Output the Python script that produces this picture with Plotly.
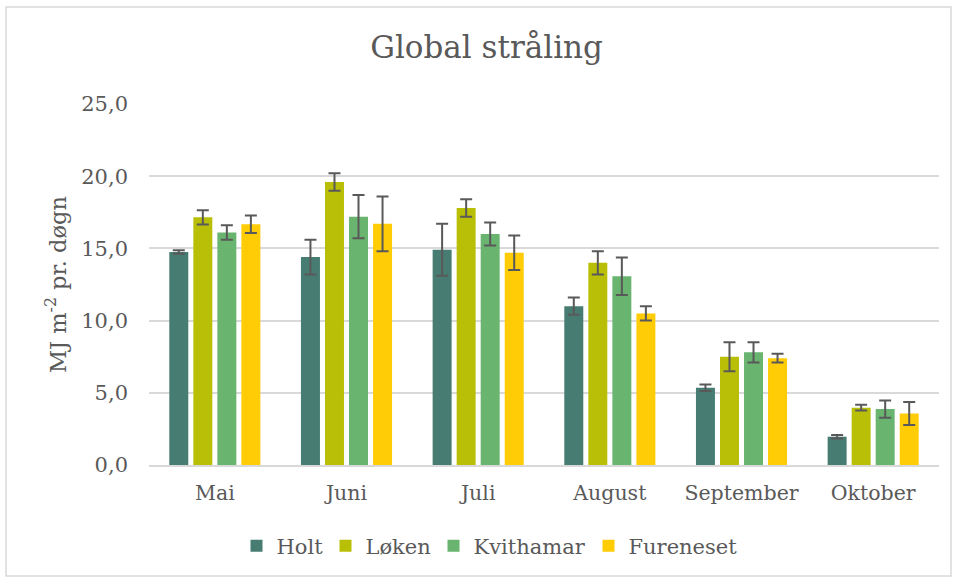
import plotly.graph_objects as go

months = ["Mai", "Juni", "Juli", "August", "September", "Oktober"]
stations = ["Holt", "Løken", "Kvithamar", "Fureneset"]
holt = [14.75, 14.4, 14.9, 11.0, 5.35, 1.96]
loken = [17.15, 19.6, 17.8, 14.0, 7.5, 3.97]
kvithamar = [16.1, 17.2, 16.0, 13.07, 7.8, 3.87]
fureneset = [16.67, 16.7, 14.7, 10.5, 7.4, 3.57]
holt_err = [0.12, 1.2, 1.8, 0.6, 0.22, 0.12]
loken_err = [0.5, 0.6, 0.6, 0.8, 1.0, 0.2]
kvithamar_err = [0.5, 1.5, 0.8, 1.3, 0.7, 0.6]
fureneset_err = [0.6, 1.9, 1.2, 0.5, 0.3, 0.8]
y_ticks = [0, 5, 10, 15, 20, 25]

values = [holt, loken, kvithamar, fureneset]
errors = [holt_err, loken_err, kvithamar_err, fureneset_err]
colors = ["#467C71", "#B9BF06", "#69B570", "#FFCC05"]

TXT = "#595959"
SERIF = "DejaVu Serif"

W, H = 957, 579
L, R, T, B = 149, 18, 104, 114
pw, ph = W - L - R, H - T - B

def px(x):
    return (x - L) / pw

def py(y):
    return (H - B - y) / ph

legend_names = ["legend", "legend2", "legend3", "legend4"]
legend_left = [236.5, 325.5, 433.5, 588.5]

fig = go.Figure()
for name, vals, errs, col, lg in zip(stations, values, errors, colors, legend_names):
    fig.add_trace(go.Bar(
        name=name, x=months, y=vals, legend=lg,
        marker=dict(color=col, line=dict(width=0)),
        error_y=dict(type="data", array=errs, visible=True,
                     color="#595959", thickness=2, width=6),
    ))

fig.add_shape(type="rect", xref="paper", yref="paper",
              x0=px(6), x1=px(951), y0=py(576), y1=py(7),
              line=dict(color="#D9D9D9", width=1.5), fillcolor="rgba(0,0,0,0)",
              layer="below")

legends = {}
for lg, lx in zip(legend_names, legend_left):
    legends[lg] = dict(orientation="h", x=px(lx), xanchor="left",
                       y=py(546), yanchor="middle", bgcolor="rgba(0,0,0,0)",
                       font=dict(family=SERIF, size=21, color=TXT))

fig.update_layout(
    width=W, height=H,
    margin=dict(l=L, r=R, t=T, b=B),
    paper_bgcolor="white", plot_bgcolor="white",
    separators=",.",
    barmode="group", bargap=0.27, bargroupgap=0.21,
    title=dict(text="Global stråling", x=(366 + 607) / 2 / W, xanchor="center",
               y=1 - 47 / H, yanchor="middle", yref="container",
               font=dict(family=SERIF, size=31, color=TXT)),
    font=dict(family=SERIF, color=TXT),
    showlegend=True,
    xaxis=dict(showgrid=False, showline=True, linecolor="#D9D9D9", linewidth=2,
               tickfont=dict(family=SERIF, size=20.5, color=TXT),
               ticks="", ticklabelstandoff=8),
    yaxis=dict(range=[0, 25], tickvals=y_ticks, tickformat=".1f",
               showgrid=True, gridcolor="#D9D9D9", gridwidth=2,
               zeroline=False, showline=False, ticks="",
               tickfont=dict(family=SERIF, size=21, color=TXT),
               ticklabelstandoff=20,
               title=dict(text="MJ m<sup>-2</sup> pr. døgn", standoff=8,
                          font=dict(family=SERIF, size=22.5, color=TXT))),
    **legends,
)

fig.write_html("out.html", config={"displayModeBar": False},
               post_script="document.body.style.margin='0';")
